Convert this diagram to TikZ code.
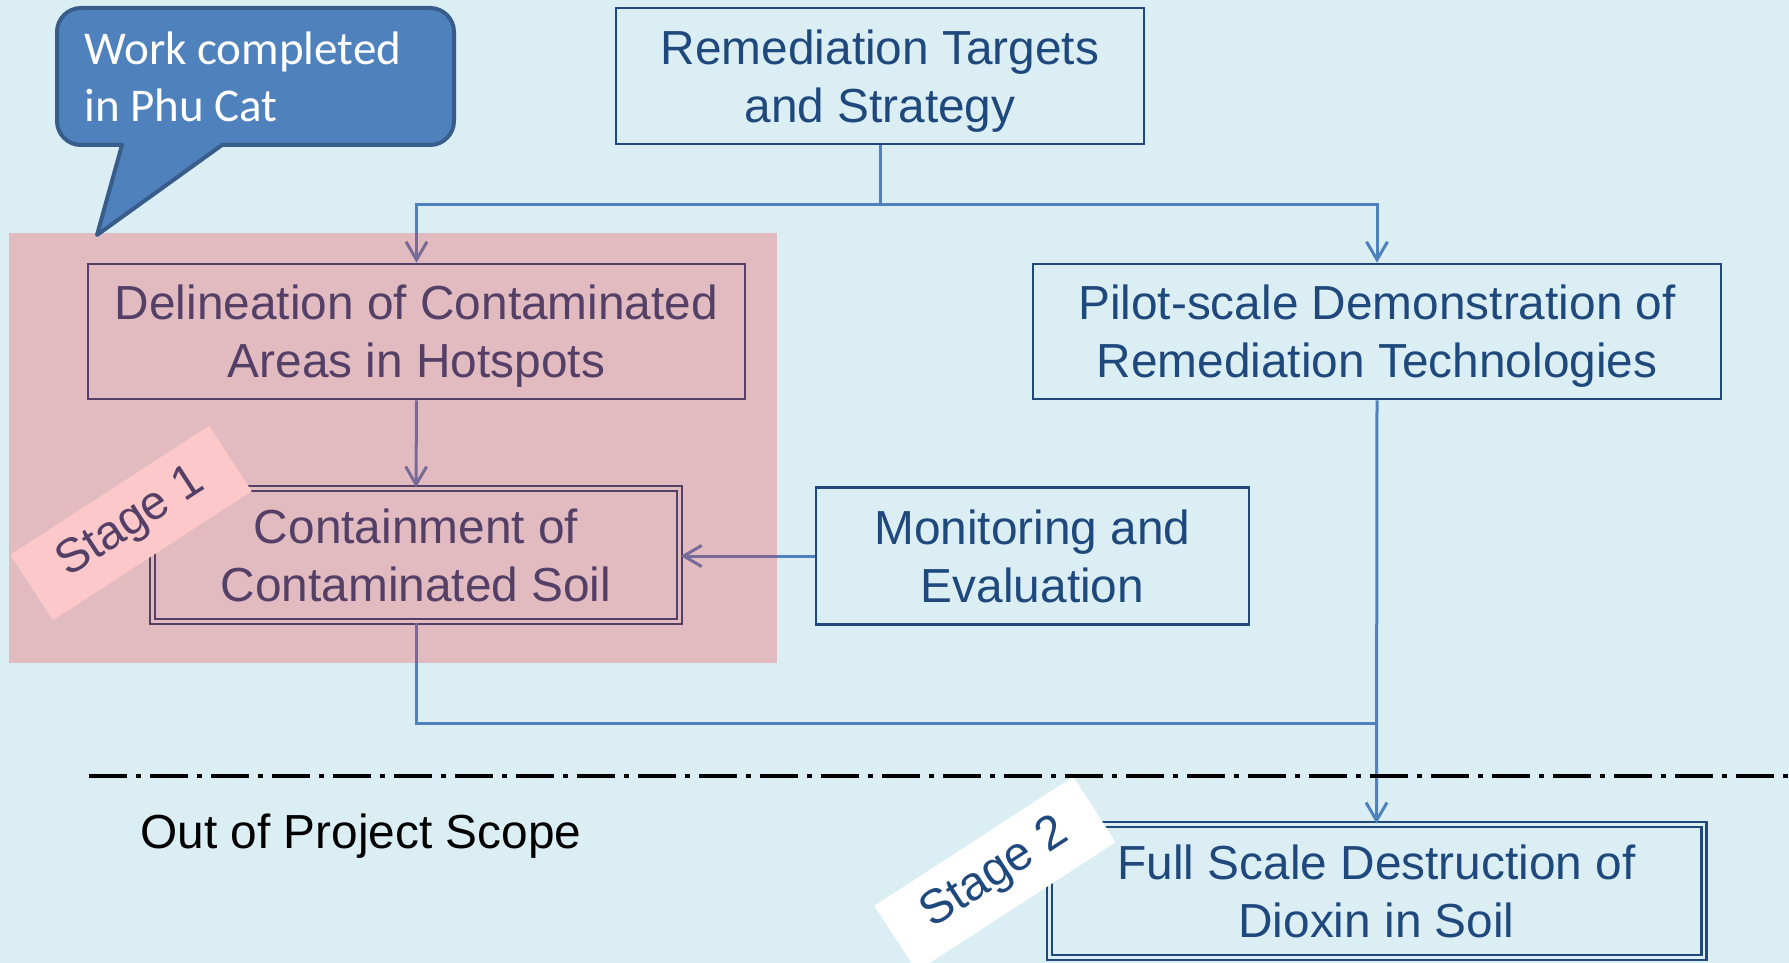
\documentclass[tikz,border=0pt]{standalone}
\usepackage{fontspec}
\setmainfont{Liberation Sans}
\newfontfamily\calloutfont{Carlito}
\usepackage{tikz}
\usetikzlibrary{arrows.meta}

\definecolor{bgblue}{RGB}{219,238,244}
\definecolor{boxblue}{RGB}{31,73,125}
\definecolor{lineblue}{RGB}{79,129,189}
\definecolor{noteedge}{RGB}{56,93,138}
\definecolor{stagered}{RGB}{244,38,40}

\newcommand{\boxfont}{\fontsize{23.9}{29}\selectfont}
\newcommand{\notefont}{\calloutfont\fontsize{23.5}{28.5}\selectfont}

\tikzset{
  taskbox/.style={draw=boxblue, line width=1.3pt, text=boxblue, font=\boxfont, align=center, inner sep=0pt, text depth=0pt},
  stagebox/.style={taskbox, double=bgblue, line width=1.2pt, double distance=1.3pt},
  stagetag/.style={fill=white, text=boxblue, font=\boxfont, rotate=33, minimum width=118.5pt, minimum height=39pt, inner sep=0pt},
  link/.style={lineblue, line width=1.5pt},
  arrowlink/.style={link, -{Straight Barb[length=9pt,width=10.5pt]}},
}

\begin{document}
\begin{tikzpicture}[x=0.5pt,y=-0.5pt]
    % canvas
    \path[use as bounding box, clip] (0,0) rectangle (1789,963);
    \fill[bgblue] (0,0) rectangle (1789,963);

    % Boxes
    \node[taskbox, minimum width=264pt, minimum height=68pt] (strategy) at (880,76) {Remediation Targets\\and Strategy};
    \node[taskbox, minimum width=328.5pt, minimum height=67.5pt] (delineation) at (416.5,331.5) {Delineation of Contaminated\\Areas in Hotspots};
    \node[taskbox, minimum width=344pt, minimum height=67.5pt] (pilot) at (1377,331.5) {Pilot-scale Demonstration of\\Remediation Technologies};
    \node[stagebox, minimum width=263.5pt, minimum height=66.3pt] (containment) at (416,555) {Containment of\\Contaminated Soil};
    \node[taskbox, minimum width=216.5pt, minimum height=68.5pt] (monitoring) at (1032.5,556) {Monitoring and\\Evaluation};
    \node[stagebox, minimum width=327.3pt, minimum height=66.3pt] (fullscale) at (1376.5,891) {Full Scale Destruction of\\Dioxin in Soil};

    % Connectors
    \draw[link] (strategy.south) -- ++(0,59) coordinate (split);
    \draw[arrowlink] (split) -| (delineation.north);
    \draw[arrowlink] (split) -| (pilot.north);
    \draw[arrowlink] (delineation.south) -- (containment.north);
    \draw[arrowlink] (monitoring.west) -- (monitoring.west -| containment.east);
    \coordinate (merge) at (pilot.south |- 0,723);
    \draw[link] (containment.south) |- (merge);
    \draw[arrowlink] (pilot.south) -- (fullscale.north);

    % Stage tags
    \node[stagetag] (stage1) at (131,523) {Stage 1};
    \node[stagetag] (stage2) at (995,874) {Stage 2};

    % Project scope limit
    \draw[black, line width=1.75pt, dash pattern=on 19pt off 4.5pt on 2.5pt off 4.5pt] (89,776) -- (1789,776);
    \node[font=\boxfont, anchor=west, inner sep=0pt] (scope) at (140,836.5) {Out of Project Scope};

    % Stage 1 area
    \fill[stagered, fill opacity=0.25] (9,233) rectangle (777,663);

    % Callout
    \draw[fill=lineblue, draw=noteedge, line width=2pt, line join=round] (122,145) -- (97,235) -- (222,145) [rounded corners=12pt] -- (454,145) -- (454,8) -- (57,8) -- (57,145) [sharp corners] -- cycle;
    \node[anchor=west, inner sep=0pt, align=left, text=white, font=\notefont] (note) at (84,77) {Work completed\\in Phu Cat};
\end{tikzpicture}
\end{document}
